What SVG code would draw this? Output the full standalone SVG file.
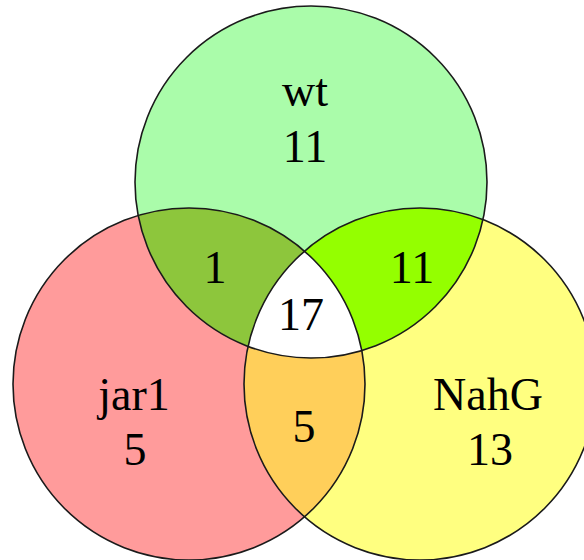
<svg xmlns="http://www.w3.org/2000/svg" width="584" height="560" viewBox="0 0 584 560">
  <style>
    .lbl { font-family: "Liberation Serif", "Times New Roman", serif; font-size: 46px; fill: #000; text-anchor: middle; }
    .edge { fill: none; stroke: #1a1a1a; stroke-width: 1.6; }
  </style>
  <defs>
    <circle id="cTop" cx="311" cy="182" r="176"/>
    <circle id="cLeft" cx="189" cy="384" r="176"/>
    <circle id="cRight" cx="420" cy="384" r="176"/>
    <clipPath id="clipTop"><use href="#cTop"/></clipPath>
    <clipPath id="clipLeft"><use href="#cLeft"/></clipPath>
    <clipPath id="clipRight"><use href="#cRight"/></clipPath>
  </defs>
  <rect width="584" height="560" fill="#ffffff"/>
  <g id="set-wt">
    <use href="#cTop" fill="#aafcaa"/>
  </g>
  <g id="set-jar1">
    <use href="#cLeft" fill="#ff9b9b"/>
  </g>
  <g id="set-NahG">
    <use href="#cRight" fill="#ffff80"/>
  </g>
  <g id="wt-jar1">
    <g clip-path="url(#clipTop)"><use href="#cLeft" fill="#8dc63c"/></g>
  </g>
  <g id="wt-NahG">
    <g clip-path="url(#clipTop)"><use href="#cRight" fill="#94ff00"/></g>
  </g>
  <g id="jar1-NahG">
    <g clip-path="url(#clipLeft)"><use href="#cRight" fill="#ffcf5a"/></g>
  </g>
  <g id="all-three">
    <g clip-path="url(#clipTop)"><g clip-path="url(#clipLeft)"><use href="#cRight" fill="#ffffff"/></g></g>
  </g>
  <g id="outlines">
    <use href="#cTop" class="edge"/>
    <use href="#cLeft" class="edge"/>
    <use href="#cRight" class="edge"/>
  </g>
  <g id="labels">
    <text class="lbl" x="305" y="106">wt</text>
    <text class="lbl" x="305" y="162">11</text>
    <text class="lbl" x="215" y="283">1</text>
    <text class="lbl" x="412" y="283">11</text>
    <text class="lbl" x="301" y="330">17</text>
    <text class="lbl" x="134" y="410">jar1</text>
    <text class="lbl" x="135" y="465">5</text>
    <text class="lbl" x="304" y="442">5</text>
    <text class="lbl" x="488" y="410">NahG</text>
    <text class="lbl" x="490" y="465">13</text>
  </g>
</svg>
